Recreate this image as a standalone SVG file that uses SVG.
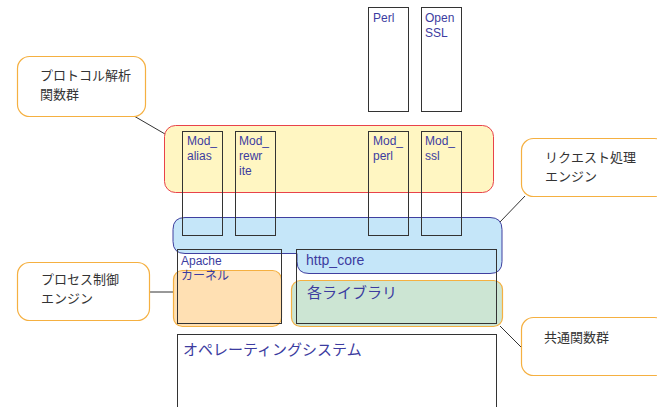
<svg xmlns="http://www.w3.org/2000/svg" width="657" height="407" viewBox="0 0 657 407">
<style>
.box{fill:none;stroke:#333;stroke-width:1}
.t{font-family:"Liberation Sans","Noto Sans CJK JP",sans-serif;fill:#3c3ca0}
.m{font-size:12px}
.co{fill:#fff;stroke:#f5b041;stroke-width:1.2}
.ct{font-family:"Noto Sans CJK JP",sans-serif;font-size:13px;fill:#333}
.ln{stroke:#333;stroke-width:1;fill:none}
</style>
<rect width="657" height="407" fill="#fff"/>
<g id="connectors">
<line class="ln" x1="134" y1="116" x2="165" y2="134"/>
<line class="ln" x1="150" y1="292" x2="173" y2="292"/>
<line class="ln" x1="525" y1="196" x2="500" y2="222"/>
<line class="ln" x1="500" y1="326" x2="521" y2="347"/>
</g>
<g id="protocol-layer"><rect x="164.5" y="125.5" width="329" height="67" rx="11" fill="#fff6c2" stroke="#e8424a" stroke-width="1"/></g>
<g id="request-engine"><path d="M185,217.5 H490 Q502,217.5 502,229.5 V261.5 Q502,273.5 490,273.5 H309 Q297,273.5 297,261.5 V253.5 H185 Q173,253.5 173,241.5 V229.5 Q173,217.5 185,217.5 Z" fill="#c5e6f9" stroke="#3f3f9f" stroke-width="1"/></g>
<g id="kernel-fill"><rect x="173.5" y="270.5" width="108" height="56" rx="9" fill="#ffe0b3" stroke="#f5b041" stroke-width="1.2"/></g>
<g id="libs-fill"><rect x="291.5" y="280.5" width="211" height="46" rx="9" fill="#cce5d3" stroke="#f5b041" stroke-width="1.2"/></g>
<g id="perl"><rect class="box" x="368.5" y="7.5" width="40" height="104"/><text class="t m" x="373" y="22">Perl</text></g>
<g id="openssl"><rect class="box" x="421.5" y="7.5" width="40" height="104"/><text class="t m" x="425" y="22">Open</text><text class="t m" x="425" y="37">SSL</text></g>
<g id="mod-alias"><rect class="box" x="182.5" y="131.5" width="40" height="104"/><text class="t m" x="187" y="145">Mod_</text><text class="t m" x="187" y="160">alias</text></g>
<g id="mod-rewrite"><rect class="box" x="235.5" y="131.5" width="40" height="104"/><text class="t m" x="239" y="145">Mod_</text><text class="t m" x="239" y="160">rewr</text><text class="t m" x="239" y="175">ite</text></g>
<g id="mod-perl"><rect class="box" x="368.5" y="131.5" width="40" height="104"/><text class="t m" x="373" y="145">Mod_</text><text class="t m" x="373" y="160">perl</text></g>
<g id="mod-ssl"><rect class="box" x="421.5" y="131.5" width="40" height="104"/><text class="t m" x="425" y="145">Mod_</text><text class="t m" x="425" y="160">ssl</text></g>
<g id="apache-kernel"><rect class="box" x="177.5" y="249.5" width="104" height="74"/><text class="t" font-size="12" x="181" y="265">Apache</text><text class="t" font-size="12" x="181" y="280">カーネル</text></g>
<g id="http-core"><rect class="box" x="296.5" y="249.5" width="200" height="74"/><text class="t" font-size="14" x="306" y="265">http_core</text><text class="t" font-size="15" x="307" y="298">各ライブラリ</text></g>
<g id="os"><rect class="box" x="177.5" y="334.5" width="319" height="80"/><text class="t" font-size="15" x="183" y="355">オペレーティングシステム</text></g>
<g id="callout-protocol"><rect class="co" x="17.5" y="56.5" width="128" height="60" rx="12"/><text class="ct" x="40" y="80">プロトコル解析</text><text class="ct" x="40" y="99">関数群</text></g>
<g id="callout-process"><rect class="co" x="17.5" y="262.5" width="132" height="58" rx="12"/><text class="ct" x="41" y="284">プロセス制御</text><text class="ct" x="41" y="303">エンジン</text></g>
<g id="callout-request"><rect class="co" x="521.5" y="138.5" width="145" height="58" rx="12"/><text class="ct" x="545" y="162">リクエスト処理</text><text class="ct" x="545" y="181">エンジン</text></g>
<g id="callout-common"><rect class="co" x="521.5" y="317.5" width="145" height="58" rx="12"/><text class="ct" x="544" y="342">共通関数群</text></g>
</svg>
